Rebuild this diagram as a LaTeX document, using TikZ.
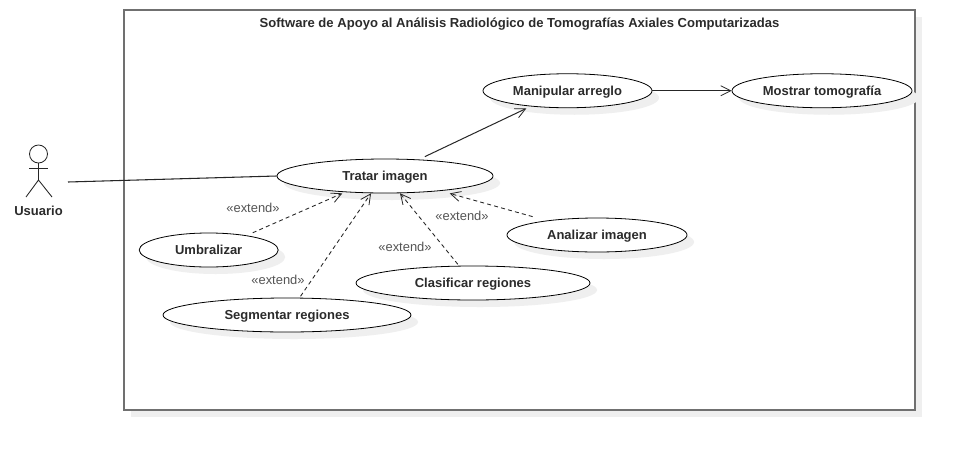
\documentclass[tikz,border=0pt]{standalone}
\usepackage{fontspec}
\setmainfont{Liberation Sans}
\usetikzlibrary{shapes.geometric,arrows.meta}
\definecolor{shadowc}{HTML}{EFEFEF}
\definecolor{framec}{HTML}{707070}
\definecolor{textc}{HTML}{2B2B2B}
\definecolor{labelc}{HTML}{555555}
\tikzset{
  x=0.75pt,y=-0.75pt,
  usecase/.style={ellipse,draw=black,line width=0.6pt,fill=white,inner sep=0pt,
    text=textc,text height=8.6pt,text depth=2pt,font=\fontsize{9.75pt}{11pt}\selectfont\bfseries},
  stereo/.style={text=labelc,font=\fontsize{9.7pt}{11pt}\selectfont,inner sep=0pt},
  assoc/.style={line width=0.8pt,draw=black!85},
  nav/.style={line width=0.75pt,draw=black!85,-{Straight Barb[length=7.5pt,width=7.5pt,line width=0.6pt]}},
  ext/.style={line width=0.65pt,draw=black!85,dash pattern=on 3pt off 2.4pt,-{Straight Barb[length=7.5pt,width=7.5pt,line width=0.6pt]}},
  limb/.style={line width=0.65pt,draw=black!85},
}
\newcommand{\shadowell}[4]{\fill[shadowc] (#1+7,#2+7) ellipse [x radius=#3*0.75pt,y radius=#4*0.75pt];}
\begin{document}
\begin{tikzpicture}
\useasboundingbox (0,0) rectangle (955,450);
% frame
\fill[shadowc] (131,17) rectangle (922,417);
\node[draw=framec,line width=1.3pt,fill=white,minimum width=593.3pt,minimum height=300pt,inner sep=0pt] (frame) at (519.5,210) {};
\node[inner sep=0pt,text=textc,font=\fontsize{9.8pt}{11pt}\selectfont\bfseries] (title) at (519.5,24) {Software de Apoyo al Análisis Radiológico de Tomografías Axiales Computarizadas};
% shadows
\shadowell{385}{176}{108}{17}
\shadowell{567.5}{90.75}{84.5}{17}
\shadowell{822}{90.75}{90}{17}
\shadowell{208.7}{250}{69.5}{17}
\shadowell{287}{315}{124}{17}
\shadowell{473}{283}{117}{17}
\shadowell{597}{235}{90}{17}
% use cases
\node[usecase,minimum width=162pt,minimum height=25.5pt] (tratar) at (385,176) {Tratar imagen};
\node[usecase,minimum width=126.75pt,minimum height=25.5pt] (manip) at (567.5,90.75) {Manipular arreglo};
\node[usecase,minimum width=135pt,minimum height=25.5pt] (mostrar) at (822,90.75) {Mostrar tomografía};
\node[usecase,minimum width=104.25pt,minimum height=25.5pt] (umbral) at (208.7,250) {Umbralizar};
\node[usecase,minimum width=186pt,minimum height=25.5pt] (segm) at (287,315) {Segmentar regiones};
\node[usecase,minimum width=175.5pt,minimum height=25.5pt] (clasif) at (473,283) {Clasificar regiones};
\node[usecase,minimum width=135pt,minimum height=25.5pt] (analiz) at (597,235) {Analizar imagen};
% actor
\node[circle,draw=black!85,line width=0.65pt,minimum size=13.5pt,inner sep=0pt] (head) at (38.5,154) {};
\coordinate (hip) at (38.5,180);
\coordinate (armL) at (29,168.5);
\coordinate (armR) at (48,168.5);
\coordinate (legL) at (26,197);
\coordinate (legR) at (52,197);
\draw[limb] (head.south) -- (hip);
\draw[limb] (armL) -- (armR);
\draw[limb] (legL) -- (hip) -- (legR);
\node[inner sep=0pt,text=textc,font=\fontsize{9.75pt}{11pt}\selectfont\bfseries] (usuario) at (38.5,210.5) {Usuario};
% connectors
\coordinate (assocstart) at (68,182);
\draw[assoc] (assocstart) -- (tratar.180.5);
\draw[nav,shorten <=5pt,shorten >=3.6pt] (tratar.26.1) -- (manip.203.8);
\draw[nav] (manip.east) -- (mostrar.west);
\draw[ext,shorten <=4.9pt,shorten >=2.2pt] (umbral.21.8) -- (tratar.202);
\draw[ext,shorten <=1.3pt] (segm.54.6) -- (tratar.231.8);
\draw[ext,shorten <=1.4pt] (clasif.129.8) -- (tratar.311.7);
\draw[ext,shorten <=10.9pt,shorten >=7pt] (analiz.164.3) -- (tratar.345.3);
% labels
\node[stereo] (l1) at (253,208) {«extend»};
\node[stereo] (l2) at (278,280) {«extend»};
\node[stereo] (l3) at (405,247) {«extend»};
\node[stereo] (l4) at (462,216) {«extend»};
\end{tikzpicture}
\end{document}
